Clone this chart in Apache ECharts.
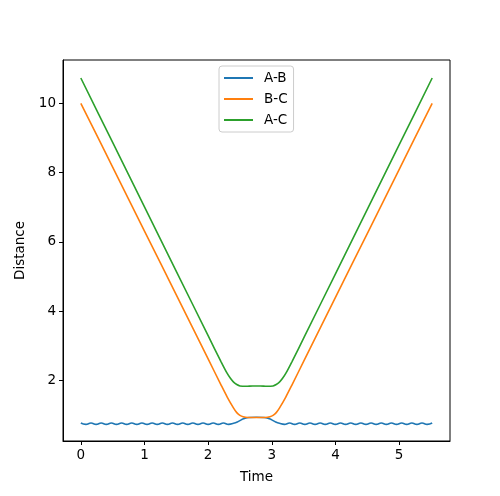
<!DOCTYPE html>
<html>
<head>
<meta charset="utf-8">
<script src="https://cdn.jsdelivr.net/npm/echarts@6/dist/echarts.min.js"></script>
<style>html,body{margin:0;padding:0;background:#fff}#c{width:500px;height:496px}</style>
</head>
<body>
<div id="c"></div>
<script>
var seriesNames = ['A-B', 'B-C', 'A-C'];
var xTicks = [0, 1, 2, 3, 4, 5];
var yTicks = [2, 4, 6, 8, 10];

var timeAB = [0, 0.08, 0.16, 0.24, 0.32, 0.40, 0.48, 0.56, 0.64, 0.72, 0.80, 0.88, 0.96, 1.04, 1.12, 1.20,
  1.28, 1.36, 1.44, 1.52, 1.60, 1.68, 1.76, 1.84, 1.92, 2.00, 2.08, 2.16, 2.24, 2.32, 2.40,
  2.46, 2.52, 2.58, 2.65, 2.76, 2.87, 2.94, 3.00, 3.06, 3.12,
  3.20, 3.28, 3.36, 3.44, 3.52, 3.60, 3.68, 3.76, 3.84, 3.92, 4.00, 4.08, 4.16, 4.24, 4.32,
  4.40, 4.48, 4.56, 4.64, 4.72, 4.80, 4.88, 4.96, 5.04, 5.12, 5.20, 5.28, 5.36, 5.44, 5.52];
var distAB = [0.77, 0.73, 0.77, 0.73, 0.77, 0.73, 0.77, 0.73, 0.77, 0.73, 0.77, 0.73, 0.77, 0.73, 0.77, 0.73,
  0.77, 0.73, 0.77, 0.73, 0.77, 0.73, 0.77, 0.73, 0.77, 0.73, 0.77, 0.73, 0.77, 0.73, 0.76,
  0.80, 0.86, 0.91, 0.93, 0.935, 0.93, 0.91, 0.86, 0.80, 0.76,
  0.73, 0.77, 0.73, 0.77, 0.73, 0.77, 0.73, 0.77, 0.73, 0.77, 0.73, 0.77, 0.73, 0.77, 0.73,
  0.77, 0.73, 0.77, 0.73, 0.77, 0.73, 0.77, 0.73, 0.77, 0.73, 0.77, 0.73, 0.77, 0.73, 0.77];

var timeBC = [0, 0.5, 1.0, 1.5, 2.0, 2.2, 2.3, 2.4, 2.45, 2.5, 2.55, 2.62, 2.76, 2.90, 2.97, 3.02, 3.07, 3.12, 3.22, 3.32, 3.52, 4.02, 4.52, 5.02, 5.52];
var distBC = [10.0, 8.16, 6.31, 4.47, 2.62, 1.88, 1.52, 1.20, 1.07, 0.99, 0.95, 0.93, 0.93, 0.93, 0.95, 0.99, 1.07, 1.20, 1.52, 1.88, 2.62, 4.47, 6.31, 8.16, 10.0];

var timeAC = [0, 0.5, 1.0, 1.5, 2.0, 2.2, 2.3, 2.35, 2.40, 2.45, 2.50, 2.60, 2.70, 2.76, 2.82, 2.92, 3.02, 3.07, 3.12, 3.17, 3.22, 3.32, 3.52, 4.02, 4.52, 5.02, 5.52];
var distAC = [10.73, 8.87, 7.01, 5.15, 3.29, 2.55, 2.20, 2.06, 1.95, 1.88, 1.84, 1.83, 1.84, 1.84, 1.84, 1.83, 1.84, 1.88, 1.95, 2.06, 2.20, 2.55, 3.29, 5.15, 7.01, 8.87, 10.73];

function pairs(t, d) { return t.map(function (v, i) { return [v, d[i]]; }); }

var font = 'DejaVu Sans, sans-serif';
var chart = echarts.init(document.getElementById('c'), null, { renderer: 'canvas' });
chart.setOption({
  animation: false,
  backgroundColor: '#ffffff',
  grid: { left: 63, right: 50, top: 60, bottom: 55, show: true, borderColor: '#000', borderWidth: 1, backgroundColor: 'transparent' },
  legend: {
    data: seriesNames,
    orient: 'vertical',
    left: 219, top: 66,
    padding: [4, 6, 4, 5],
    icon: 'rect',
    itemWidth: 29, itemHeight: 2, itemGap: 5,
    borderColor: '#cccccc', borderWidth: 1, borderRadius: 3,
    backgroundColor: 'rgba(255,255,255,0.8)',
    textStyle: { fontFamily: font, fontSize: 13.5, color: '#000', padding: [0, 0, 0, 6], lineHeight: 16 }
  },
  xAxis: {
    type: 'value', min: -0.28, max: 5.8,
    name: 'Time', nameLocation: 'middle', nameGap: 29,
    nameTextStyle: { fontFamily: font, fontSize: 13.5, color: '#000' },
    axisLine: { show: true, onZero: false, lineStyle: { color: '#000', width: 1 } },
    axisTick: { show: true, customValues: xTicks, length: 4, lineStyle: { color: '#000' } },
    axisLabel: { customValues: xTicks, margin: 7, fontFamily: font, fontSize: 13.5, color: '#000' },
    splitLine: { show: false }
  },
  yAxis: {
    type: 'value', min: 0.25, max: 11.25,
    name: 'Distance', nameLocation: 'middle', nameGap: 34, nameRotate: 90,
    nameTextStyle: { fontFamily: font, fontSize: 13.5, color: '#000' },
    axisLine: { show: true, onZero: false, lineStyle: { color: '#000', width: 1 } },
    axisTick: { show: true, customValues: yTicks, length: 4, lineStyle: { color: '#000' } },
    axisLabel: { customValues: yTicks, margin: 7, fontFamily: font, fontSize: 13.5, color: '#000' },
    splitLine: { show: false }
  },
  series: [
    { name: seriesNames[0], type: 'line', data: pairs(timeAB, distAB), symbol: 'none', smooth: 0.5, color: '#1f77b4', lineStyle: { width: 1.6 } },
    { name: seriesNames[1], type: 'line', data: pairs(timeBC, distBC), symbol: 'none', smooth: 0.3, color: '#ff7f0e', lineStyle: { width: 1.6 } },
    { name: seriesNames[2], type: 'line', data: pairs(timeAC, distAC), symbol: 'none', smooth: 0.3, color: '#2ca02c', lineStyle: { width: 1.6 } }
  ]
});
</script>
</body>
</html>
